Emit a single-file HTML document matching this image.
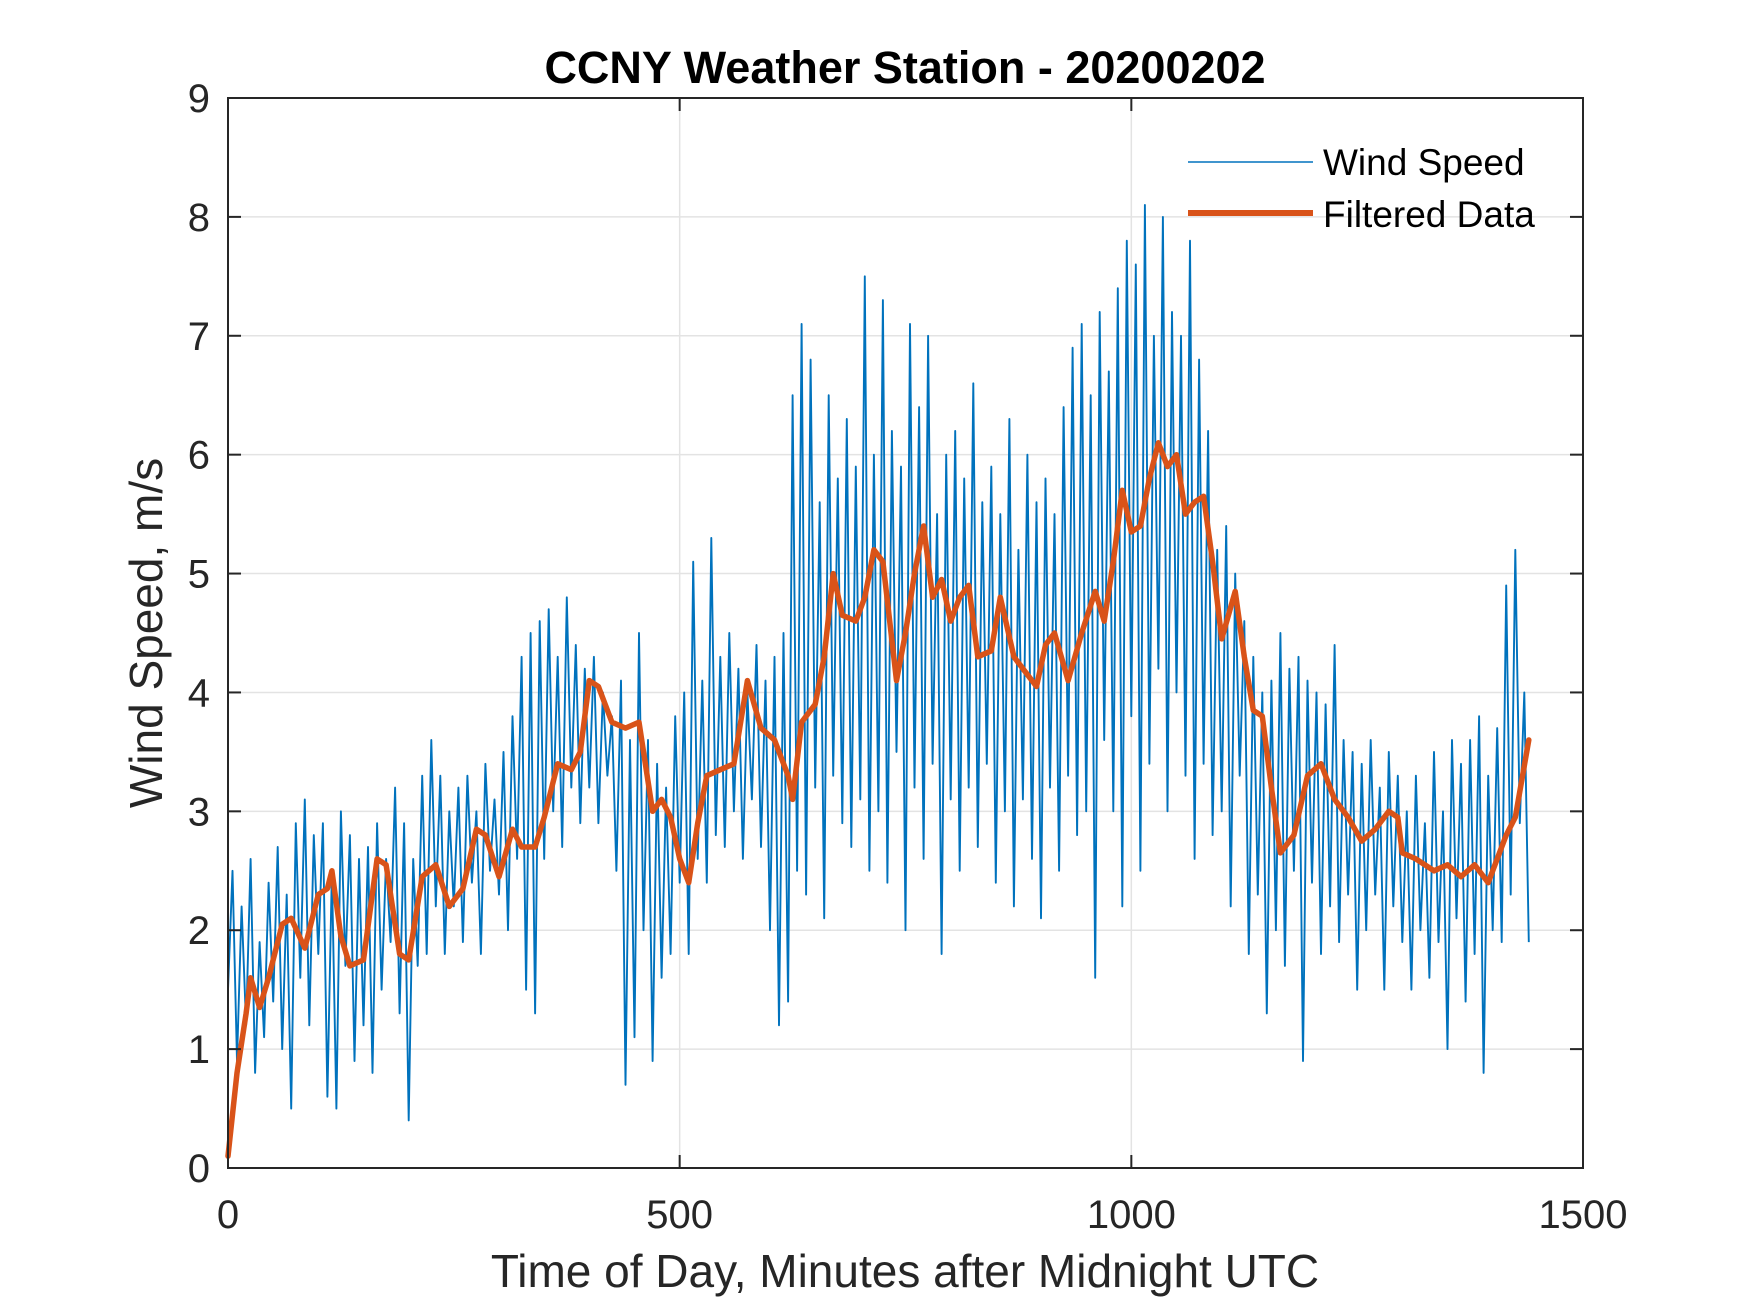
<!DOCTYPE html>
<html><head><meta charset="utf-8"><style>
html,body{margin:0;padding:0;background:#fff;}
svg{display:block;font-family:"Liberation Sans",Arial,sans-serif;}
</style></head><body>
<svg id="chart" width="1750" height="1313" viewBox="0 0 1750 1313" xmlns="http://www.w3.org/2000/svg">
<rect width="1750" height="1313" fill="#fff"/>
<g id="grid"></g>
<g id="series"></g>
<rect x="228" y="98" width="1355" height="1070" fill="none" stroke="#262626" stroke-width="2"/>
<g id="ticks"></g>
<text x="905" y="83" text-anchor="middle" font-size="45" font-weight="bold" fill="#000">CCNY Weather Station - 20200202</text>
<text x="905" y="1287" text-anchor="middle" font-size="46" fill="#262626">Time of Day, Minutes after Midnight UTC</text>
<text transform="translate(162,633) rotate(-90)" text-anchor="middle" font-size="46" fill="#262626">Wind Speed, m/s</text>
<g>
<line x1="1188" y1="162" x2="1313" y2="162" stroke="#0072BD" stroke-width="1.6"/>
<text x="1323" y="175" font-size="37" fill="#000">Wind Speed</text>
<line x1="1188" y1="213" x2="1313" y2="213" stroke="#D95319" stroke-width="6"/>
<text x="1323" y="227" font-size="37" fill="#000">Filtered Data</text>
</g>
</svg>
<script>
const xTicks = [0, 500, 1000, 1500];
const yTicks = [0, 1, 2, 3, 4, 5, 6, 7, 8, 9];
const windStartMinute = 0;
const windStepMinutes = 5;
const windSpeed = [
1.5,2.5,0.9,2.2,1.2,2.6,0.8,1.9,1.1,2.4,
1.4,2.7,1.0,2.3,0.5,2.9,1.6,3.1,1.2,2.8,
1.8,2.9,0.6,2.5,0.5,3.0,1.7,2.8,0.9,2.6,
1.2,2.7,0.8,2.9,1.5,2.6,1.9,3.2,1.3,2.9,
0.4,2.6,1.7,3.3,1.8,3.6,2.2,3.3,1.8,3.0,
2.2,3.2,1.9,3.3,2.4,3.0,1.8,3.4,2.5,3.1,
2.3,3.5,2.0,3.8,2.6,4.3,1.5,4.5,1.3,4.6,
2.6,4.7,3.0,4.3,2.7,4.8,3.2,4.4,2.9,4.2,
3.2,4.3,2.9,4.0,3.3,3.8,2.5,4.1,0.7,3.6,
1.1,4.5,2.0,3.6,0.9,3.4,1.6,3.2,1.8,3.8,
2.4,4.0,1.8,5.1,2.6,4.1,2.4,5.3,2.8,4.3,
2.7,4.5,3.0,4.2,2.6,4.0,3.1,4.4,2.7,4.1,
2.0,4.3,1.2,4.5,1.4,6.5,2.5,7.1,2.3,6.8,
3.2,5.6,2.1,6.5,3.3,5.8,2.9,6.3,2.7,5.9,
3.1,7.5,2.5,6.0,3.0,7.3,2.4,6.2,3.5,5.9,
2.0,7.1,3.2,6.4,2.6,7.0,3.4,5.5,1.8,6.0,
3.1,6.2,2.5,5.8,3.2,6.6,2.7,5.6,3.4,5.9,
2.4,5.5,3.0,6.3,2.2,5.2,3.1,6.0,2.6,5.6,
2.1,5.8,3.2,5.5,2.5,6.4,3.3,6.9,2.8,7.1,
3.0,6.5,1.6,7.2,3.6,6.7,3.0,7.4,2.2,7.8,
3.8,7.6,2.5,8.1,3.4,7.0,4.2,8.0,3.0,7.2,
4.0,7.0,3.3,7.8,2.6,6.8,3.4,6.2,2.8,5.2,
3.0,5.4,2.2,5.0,3.3,4.6,1.8,4.3,2.3,4.0,
1.3,4.1,2.0,4.5,1.7,4.2,2.5,4.3,0.9,4.1,
2.4,4.0,1.8,3.9,2.2,4.4,1.9,3.6,2.3,3.5,
1.5,3.4,2.0,3.6,2.3,3.2,1.5,3.5,2.2,3.3,
1.9,3.0,1.5,3.3,2.0,2.9,1.6,3.5,1.9,3.0,
1.0,3.6,2.1,3.4,1.4,3.6,1.8,3.8,0.8,3.3,
2.0,3.7,1.9,4.9,2.3,5.2,2.9,4.0,1.9
];
const filteredTimes = [0,10,20,25,35,45,60,70,85,100,110,115,125,135,150,165,175,190,200,215,230,245,260,275,285,300,315,325,340,350,365,380,390,400,410,425,440,455,470,480,490,500,510,520,530,545,560,575,590,605,620,625,635,650,660,670,680,695,705,715,725,740,750,760,770,780,790,800,810,820,830,845,855,870,880,895,905,915,930,945,960,970,980,990,1000,1010,1020,1030,1040,1050,1060,1070,1080,1090,1100,1115,1125,1135,1145,1155,1165,1180,1195,1210,1225,1240,1255,1270,1285,1295,1300,1315,1325,1335,1350,1365,1380,1395,1405,1415,1425,1440];
const filteredValues = [0.1,0.8,1.3,1.6,1.35,1.6,2.05,2.1,1.85,2.3,2.35,2.5,1.95,1.7,1.75,2.6,2.55,1.8,1.75,2.45,2.55,2.2,2.35,2.85,2.8,2.45,2.85,2.7,2.7,2.95,3.4,3.35,3.5,4.1,4.05,3.75,3.7,3.75,3.0,3.1,2.95,2.6,2.4,2.9,3.3,3.35,3.4,4.1,3.7,3.6,3.3,3.1,3.75,3.9,4.3,5.0,4.65,4.6,4.8,5.2,5.1,4.1,4.5,5.0,5.4,4.8,4.95,4.6,4.8,4.9,4.3,4.35,4.8,4.3,4.2,4.05,4.4,4.5,4.1,4.5,4.85,4.6,5.1,5.7,5.35,5.4,5.8,6.1,5.9,6.0,5.5,5.6,5.65,5.1,4.45,4.85,4.3,3.85,3.8,3.2,2.65,2.8,3.3,3.4,3.1,2.95,2.75,2.85,3.0,2.95,2.65,2.6,2.55,2.5,2.55,2.45,2.55,2.4,2.6,2.8,2.95,3.6];

const L=228,R=1583,T=98,B=1168, XMIN=0,XMAX=1500,YMIN=0,YMAX=9;
const NS="http://www.w3.org/2000/svg";
function sx(v){return L+(v-XMIN)/(XMAX-XMIN)*(R-L);}
function sy(v){return B-(v-YMIN)/(YMAX-YMIN)*(B-T);}
function mk(tag,attrs,parent){const e=document.createElementNS(NS,tag);for(const k in attrs)e.setAttribute(k,attrs[k]);parent.appendChild(e);return e;}
const grid=document.getElementById('grid'), ticks=document.getElementById('ticks'), series=document.getElementById('series');
xTicks.forEach(t=>{
  const x=sx(t);
  if(t>XMIN&&t<XMAX){const g=mk('line',{x1:x,y1:T,x2:x,y2:B,stroke:'#e3e3e3','stroke-width':1.5},grid);
  
  }
  const a=mk('line',{x1:x,y1:B,x2:x,y2:B-13,stroke:'#262626','stroke-width':2},ticks);
  
  
  const b=mk('line',{x1:x,y1:T,x2:x,y2:T+13,stroke:'#262626','stroke-width':2},ticks);
  
  
  const tx=mk('text',{x:x,y:1228,'text-anchor':'middle','font-size':40,fill:'#262626'},ticks);
  tx.textContent=t;
  
  
});
yTicks.forEach(t=>{
  const y=sy(t);
  if(t>YMIN&&t<YMAX){const g=mk('line',{x1:L,y1:y,x2:R,y2:y,stroke:'#e3e3e3','stroke-width':1.5},grid);
  
  }
  const a=mk('line',{x1:L,y1:y,x2:L+13,y2:y,stroke:'#262626','stroke-width':2},ticks);
  
  
  const b=mk('line',{x1:R,y1:y,x2:R-13,y2:y,stroke:'#262626','stroke-width':2},ticks);
  
  
  const tx=mk('text',{x:210,y:y+14,'text-anchor':'end','font-size':40,fill:'#262626'},ticks);
  tx.textContent=t;
  
  
});
const wp=windSpeed.map((v,i)=>sx(windStartMinute+i*windStepMinutes).toFixed(1)+','+sy(v).toFixed(1)).join(' ');
const wl=mk('polyline',{points:wp,fill:'none',stroke:'#0072BD','stroke-width':1.9,'stroke-linejoin':'round'},series);


const fp=filteredTimes.map((t,i)=>sx(t).toFixed(1)+','+sy(filteredValues[i]).toFixed(1)).join(' ');
const fl=mk('polyline',{points:fp,fill:'none',stroke:'#D95319','stroke-width':5.5,'stroke-linejoin':'round','stroke-linecap':'round'},series);


</script>
</body></html>
